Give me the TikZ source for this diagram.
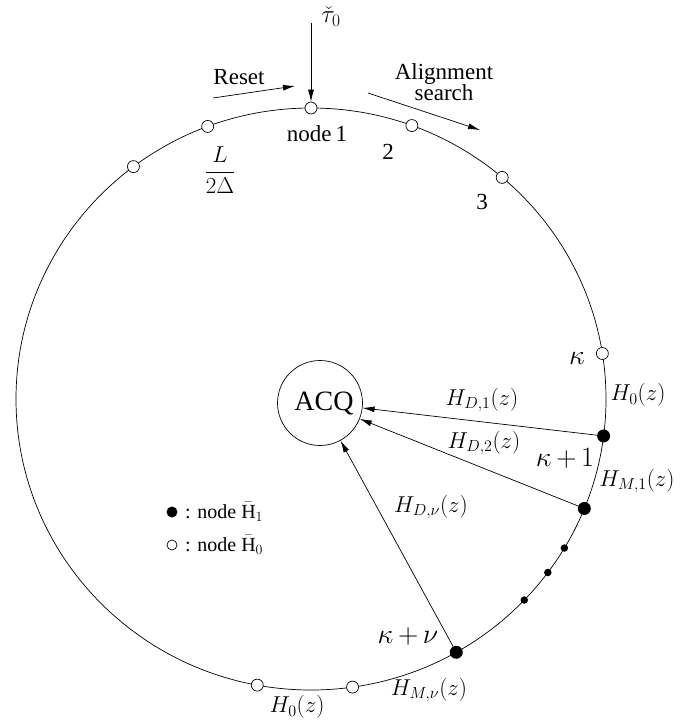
\documentclass[tikz,border=0pt]{standalone}
\usepackage{fix-cm}
\usepackage{amsmath}
\usepackage{fontspec}
\setmainfont{Liberation Serif}
\usetikzlibrary{arrows.meta,calc}

\begin{document}
\begin{tikzpicture}[x=1pt,y=-1pt,
		every node/.style={inner sep=0pt},
		opennode/.style={circle,draw,fill=white,minimum size=12pt,line width=0.7pt},
		fullnode/.style={circle,fill=black,minimum size=13pt},
		smalldot/.style={circle,fill=black,minimum size=7.5pt},
		lab/.style={font=\fontsize{23}{27}\selectfont},
		klab/.style={font=\fontsize{28}{32}\selectfont},
		link/.style={-{Latex[length=12pt,width=6pt]},line width=0.7pt}]
		\useasboundingbox (0,0) rectangle (687,724);
		\coordinate (ctr) at (311,399);
		\draw[line width=0.7pt] (ctr) ellipse [x radius=295, y radius=291];
	% nodes on the ring
	\foreach \a/\n in {-90/node1,-70/node2,-49.6/node3,-9/nodeK,81.9/botA,100.5/botB,233/leftA,249.5/nodeL}
		\node[opennode] (\n) at ($(ctr)+(\a:295 and 291)$) {};
	\foreach \a/\n in {7.3/nodeKa,22.1/nodeKb,60.5/nodeKv}
		\node[fullnode] (\n) at ($(ctr)+(\a:295 and 291)$) {};
	\foreach \a/\n in {30.8/dotA,36.6/dotB,43.7/dotC}
		\node[smalldot] (\n) at ($(ctr)+(\a:295 and 291)$) {};
	% acquisition
	\node[circle,draw,line width=0.7pt,minimum size=85pt,font=\fontsize{28}{30}\selectfont] (acq) at (320,403) {\hspace{8pt}ACQ};
	\draw[link] (nodeKa) -- (acq);
	\draw[link] (nodeKb) -- (acq);
	\draw[link] (nodeKv) -- (acq);
	% top arrows
	\coordinate (tautop) at (311,23);
	\draw[link] (tautop) -- (node1);
	\node[font=\fontsize{25}{28}\selectfont] (tau) at (331,17) {$\check{\tau}_0$};
	\coordinate (resetA) at (213,98);
	\coordinate (resetB) at (295,86);
	\draw[link] (resetA) -- (resetB);
	\node[font=\fontsize{23}{26}\selectfont] (reset) at (239,77) {Reset};
	\coordinate (alignA) at (368,93);
	\coordinate (alignB) at (480,130);
	\draw[link] (alignA) -- (alignB);
	\node[align=center,font=\fontsize{23}{21}\selectfont] (align) at (444,82) {Alignment\\search};
	% labels of the nodes
	\node[lab] (lnode1) at (317,134) {node\,1};
	\node[lab] (lnode2) at (388,152) {2};
	\node[lab] (lnode3) at (482,202) {3};
	\node[font=\fontsize{23}{26}\selectfont] (lnodeL) at (220,170) {$\dfrac{L}{2\Delta}$};
	\node[klab] (lK) at (577,358) {$\kappa$};
	\node[klab] (lKa) at (565,458) {$\kappa\,{+}\,1$};
	\node[klab] (lKv) at (408,636) {$\kappa\,{+}\,\nu$};
	% filter labels
	\node[lab] (hzeroA) at (638,395) {$H_0(z)$};
	\node[lab] (hmA) at (637,481) {$H_{M,1}(z)$};
	\node[lab] (hmv) at (429,690) {$H_{M,\nu}(z)$};
	\node[lab] (hzeroB) at (297,707) {$H_0(z)$};
	\node[lab] (hdA) at (482,400) {$H_{D,1}(z)$};
	\node[lab] (hdB) at (484,443) {$H_{D,2}(z)$};
	\node[lab] (hdv) at (431,507) {$H_{D,\nu}(z)$};
	% legend
	\node[fullnode,minimum size=11pt] (legA) at (172,512) {};
	\node[opennode,minimum size=10pt] (legB) at (172,545) {};
	\node[anchor=west,font=\fontsize{20}{24}\selectfont] (legAt) at (185,512) {: node $\bar{\mathrm{H}}_1$};
	\node[anchor=west,font=\fontsize{20}{24}\selectfont] (legBt) at (185,545) {: node $\bar{\mathrm{H}}_0$};
\end{tikzpicture}
\end{document}
